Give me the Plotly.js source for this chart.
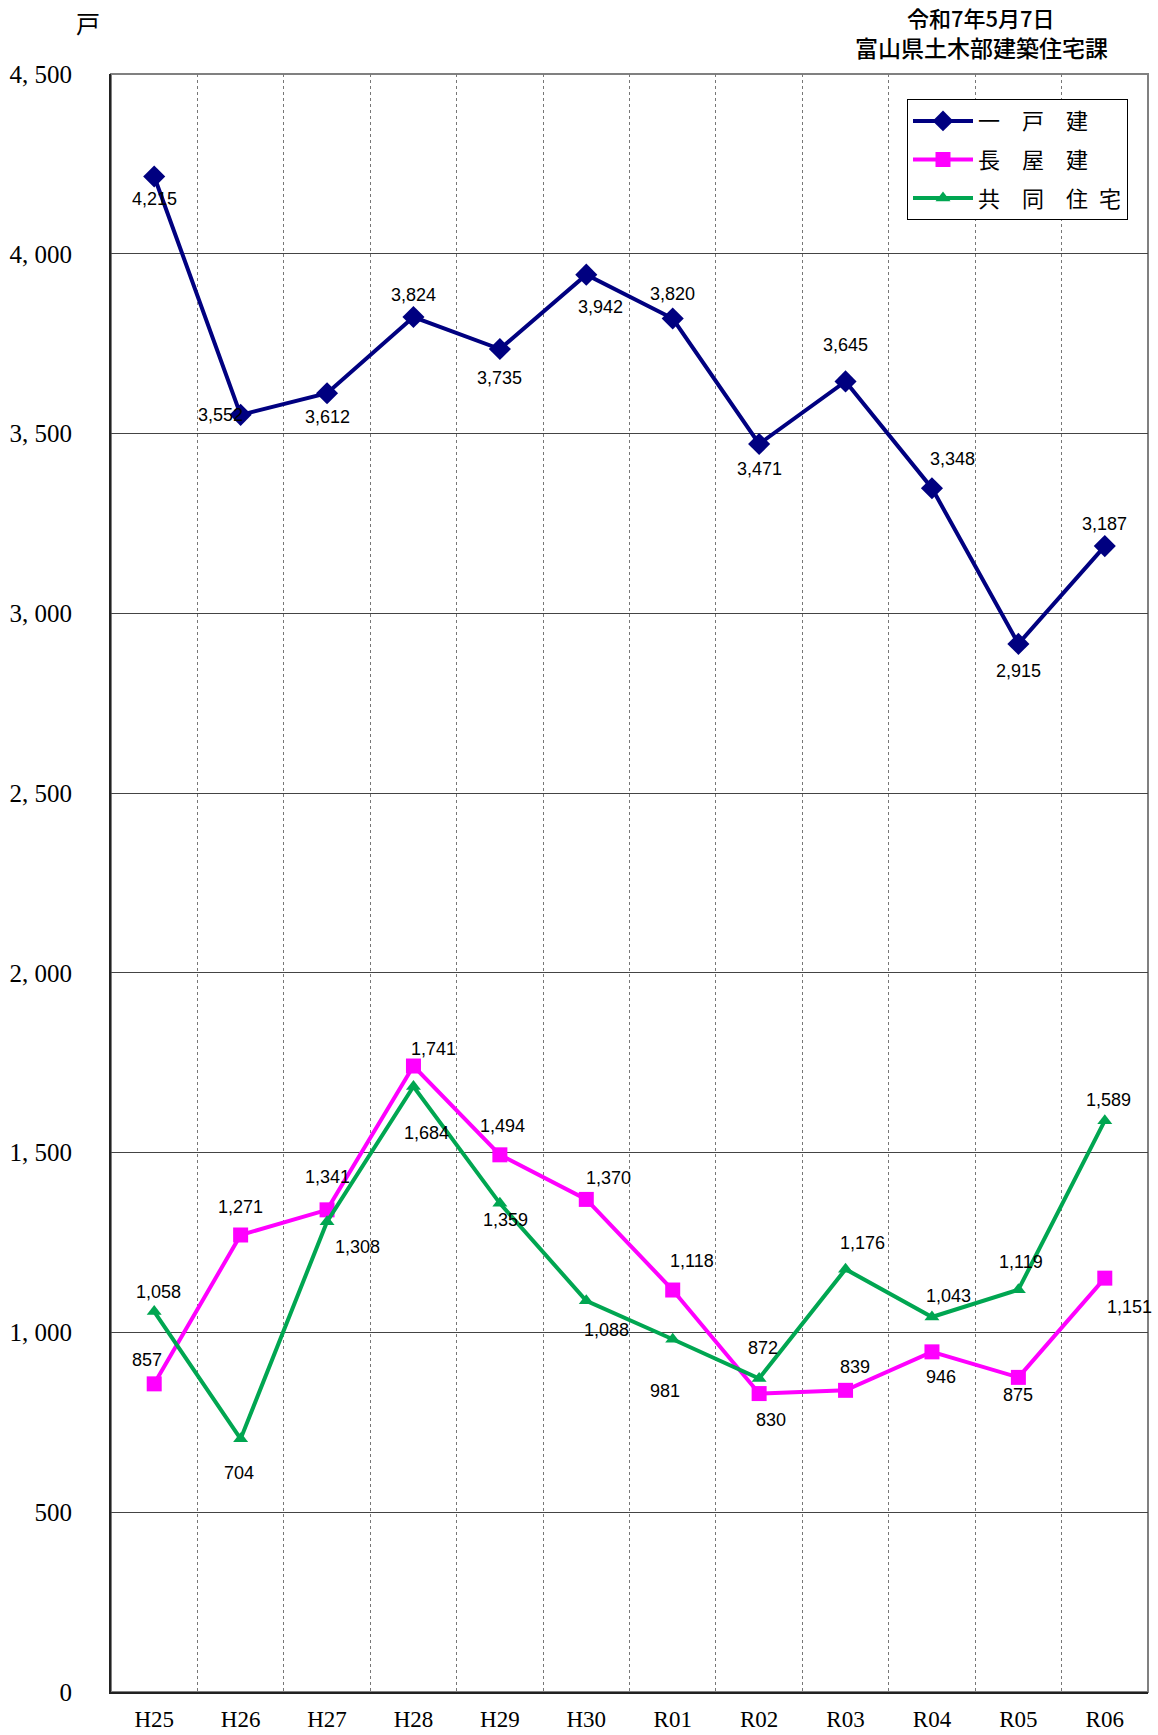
<!DOCTYPE html>
<html>
<head>
<meta charset="utf-8">
<script src="https://cdn.plot.ly/plotly-3.0.1.min.js"></script>
<style>html,body{margin:0;padding:0;background:#fff;}#chart{width:1158px;height:1735px;}</style>
</head>
<body>
<div id="chart"></div>
<script>
// ---- data ----
const categories = ["H25","H26","H27","H28","H29","H30","R01","R02","R03","R04","R05","R06"];
const ikkodate = [4215, 3552, 3612, 3824, 3735, 3942, 3820, 3471, 3645, 3348, 2915, 3187];
const nagayadate = [857, 1271, 1341, 1741, 1494, 1370, 1118, 830, 839, 946, 875, 1151];
const kyodojutaku = [1058, 704, 1308, 1684, 1359, 1088, 981, 872, 1176, 1043, 1119, 1589];
const seriesNames = ["一　戸　建", "長　屋　建", "共　同　住\u2002宅"];
const yTickValues = [0, 500, 1000, 1500, 2000, 2500, 3000, 3500, 4000, 4500];
const yTickLabels = ["0", "500", "1, 000", "1, 500", "2, 000", "2, 500", "3, 000", "3, 500", "4, 000", "4, 500"];
const unitLabel = "戸";
const dateLine = "令和7年5月7日";
const sourceLine = "富山県土木部建築住宅課";

// ---- label placement offsets (px: dx right, dy down) ----
const offIkko = [[0,23],[-20,0],[0,24],[0,-22],[0,29],[14,32],[0,-25],[0,25],[0,-36],[21,-29],[0,27],[0,-22]];
const offNagaya = [[-7,-24],[0,-28],[0,-33],[20,-17],[3,-29],[22,-21],[19,-29],[12,26],[9,-23],[9,25],[0,18],[25,29]];
const offKyodo = [[4,-20],[-2,34],[30,25],[13,46],[6,17],[20,29],[-8,52],[4,-30],[17,-26],[17,-21],[3,-28],[4,-21]];

const colors = ["#000080", "#FF00FF", "#00A651"];
const labelFont = {family: "Liberation Sans, Arial, sans-serif", size: 18, color: "#000"};
const serif = "Liberation Serif, Times New Roman, serif";
const cjk = "Noto Sans CJK JP, sans-serif";

const traces = [
  {x: categories, y: ikkodate, name: seriesNames[0], legendgroup: "a", mode: "lines+markers",
   line: {color: colors[0], width: 4}, marker: {symbol: "diamond", size: 17, color: colors[0]}},
  {x: categories, y: nagayadate, name: seriesNames[1], legendgroup: "b", mode: "lines+markers",
   line: {color: colors[1], width: 4}, marker: {symbol: "square", size: 15, color: colors[1]}},
  {x: categories, y: kyodojutaku, name: seriesNames[2], legendgroup: "c", mode: "lines+markers",
   line: {color: colors[2], width: 4}, marker: {symbol: "triangle-up", size: 13, color: colors[2]}}
];

function fmt(v){ return v.toLocaleString("en-US"); }
const annotations = [];
[[ikkodate, offIkko], [nagayadate, offNagaya], [kyodojutaku, offKyodo]].forEach(([vals, offs]) => {
  vals.forEach((v, i) => {
    annotations.push({x: categories[i], y: v, xref: "x", yref: "y", text: fmt(v), showarrow: false,
      xshift: offs[i][0], yshift: -offs[i][1], font: labelFont, xanchor: "center", yanchor: "middle"});
  });
});
annotations.push({xref: "paper", yref: "paper", x: -0.022, y: 1.032, text: unitLabel, showarrow: false,
  xanchor: "center", yanchor: "middle", font: {family: cjk, size: 24, color: "#000"}});
annotations.push({xref: "paper", yref: "paper", x: 0.839, y: 1.0352, text: dateLine, showarrow: false,
  xanchor: "center", yanchor: "middle", font: {family: cjk, size: 22, color: "#000", weight: 500}});
annotations.push({xref: "paper", yref: "paper", x: 0.839, y: 1.0165, text: sourceLine, showarrow: false,
  xanchor: "center", yanchor: "middle", font: {family: cjk, size: 23, color: "#000", weight: 500}});

const layout = {
  width: 1158, height: 1735,
  margin: {l: 111, r: 10, t: 74, b: 43},
  paper_bgcolor: "#fff", plot_bgcolor: "#fff",
  showlegend: true,
  legend: {x: 0.7676, y: 0.9845, xanchor: "left", yanchor: "top", bgcolor: "#fff",
    bordercolor: "#000", borderwidth: 1, font: {family: cjk, size: 22, color: "#000"},
    traceorder: "grouped", tracegroupgap: 7, itemwidth: 60},
  xaxis: {type: "category", range: [-0.5, 11.5], tickson: "boundaries", ticks: "",
    showgrid: true, gridcolor: "#777", gridwidth: 1, griddash: "dot",
    showline: true, linecolor: "#222", linewidth: 2, zeroline: false,
    tickfont: {family: serif, size: 23, color: "#000"}, ticklabelstandoff: 5, fixedrange: true},
  yaxis: {range: [0, 4500], tickvals: yTickValues, ticktext: yTickLabels, ticks: "",
    showgrid: true, gridcolor: "#444", gridwidth: 1,
    showline: true, linecolor: "#222", linewidth: 2, zeroline: false,
    tickfont: {family: serif, size: 25, color: "#000"}, ticklabelstandoff: 32, fixedrange: true},
  shapes: [{type: "rect", xref: "paper", yref: "paper", x0: 0, x1: 1, y0: 0, y1: 1,
    line: {color: "#808080", width: 2}, layer: "below"}],
  annotations: annotations
};

Plotly.newPlot("chart", traces, layout, {staticPlot: true});
</script>
</body>
</html>
